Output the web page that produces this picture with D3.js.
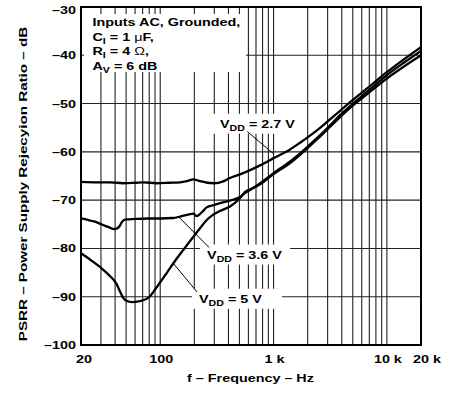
<!DOCTYPE html>
<html>
<head>
<meta charset="utf-8">
<script src="https://cdn.jsdelivr.net/npm/d3@7"></script>
<style>
  body { margin: 0; background: #fff; }
  text { font-family: "Liberation Sans", Arial, Helvetica, sans-serif; font-weight: bold; fill: #000; }
</style>
</head>
<body>
<svg id="chart" width="453" height="400"></svg>
<script>
// PSRR vs frequency, three supply voltages
const f27 = [20, 28, 36, 47, 60, 71, 93, 120, 150, 175, 196, 220, 260, 300, 360, 413, 500, 580, 760, 1000, 1400, 1714, 2400, 3000, 3864, 4732, 6650, 10000, 14000, 20000];
const db27 = [-66.2, -66.3, -66.3, -66.5, -66.4, -66.3, -66.5, -66.4, -66.3, -66.0, -65.7, -66.0, -66.4, -66.5, -66.1, -65.4, -64.7, -64.1, -62.8, -61.3, -59.5, -58.1, -55.6, -53.7, -51.5, -49.7, -46.9, -43.5, -40.9, -38.3];

const f36 = [20, 23, 26, 31, 36, 39, 42, 44, 46, 50, 60, 80, 100, 130, 150, 175, 196, 210, 235, 257, 300, 337, 413, 500, 562, 660, 760, 1000, 1400, 1714, 2400, 3000, 3864, 4732, 6650, 10000, 14000, 20000];
const db36 = [-73.8, -74.1, -74.4, -75.1, -75.7, -76.0, -75.8, -75.3, -74.5, -74.0, -73.9, -73.8, -73.8, -73.7, -73.4, -73.0, -72.8, -73.3, -72.4, -71.5, -71.0, -70.6, -70.1, -69.4, -68.5, -67.5, -66.5, -64.4, -62.0, -60.3, -57.2, -55.0, -52.4, -50.5, -47.6, -44.1, -41.6, -39.1];

const f50 = [20, 24, 30, 36, 41, 44, 47, 51, 56, 66, 75, 82, 90, 100, 114, 135, 160, 190, 226, 260, 294, 340, 413, 500, 562, 660, 760, 1000, 1400, 1714, 2400, 3000, 3864, 4732, 6650, 10000, 14000, 20000];
const db50 = [-81.0, -82.3, -84.0, -85.7, -87.3, -88.8, -90.2, -90.9, -91.1, -90.9, -90.5, -89.8, -88.5, -87.0, -85.1, -82.6, -80.3, -78.0, -75.7, -74.0, -73.0, -72.2, -71.3, -69.7, -68.3, -67.5, -66.7, -64.6, -62.3, -60.6, -57.5, -55.3, -52.8, -50.9, -48.1, -44.8, -42.4, -40.0];

const xTicks = [20, 100, 1000, 10000, 20000];
const xTickLabels = ['20', '100', '1 k', '10 k', '20 k'];
const yTicks = [-30, -40, -50, -60, -70, -80, -90, -100];
const yTickLabels = ['–30', '–40', '–50', '–60', '–70', '–80', '–90', '–100'];

const W = 453, H = 400;
const margin = { top: 7, right: 32, bottom: 55, left: 81 };
const SX = 1.25; // the original lettering is wider than Arial

const svg = d3.select('#chart');
svg.append('rect').attr('width', W).attr('height', H).attr('fill', '#fff');

const x = d3.scaleLog().domain([20, 20000]).range([margin.left, W - margin.right]);
const y = d3.scaleLinear().domain([-100, -30]).range([H - margin.bottom, margin.top]);

// grid
const grid = svg.append('g').attr('stroke', '#222').attr('stroke-width', 1.1);
grid.selectAll('.vx')
  .data(x.ticks().filter(d => d > 20 && d < 20000))
  .enter().append('line')
  .attr('x1', d => x(d)).attr('x2', d => x(d))
  .attr('y1', y(-30)).attr('y2', y(-100));
grid.selectAll('.hy')
  .data(yTicks.filter(d => d > -100 && d < -30))
  .enter().append('line')
  .attr('x1', x(20)).attr('x2', x(20000))
  .attr('y1', d => y(d)).attr('y2', d => y(d));

function place(sel, px, py, sx) {
  return sel.attr('transform', 'translate(' + px + ',' + py + ') scale(' + sx + ',1)');
}

// info box
const info = svg.append('g');
info.append('rect')
  .attr('x', margin.left + 3).attr('y', margin.top + 7)
  .attr('width', 162).attr('height', 58).attr('fill', '#fff');

const infoLines = [
  [{ t: 'Inputs AC, Grounded,' }],
  [{ t: 'C' }, { t: 'I', sub: true }, { t: ' = 1 ' }, { t: 'μ', thin: true }, { t: 'F,' }],
  [{ t: 'R' }, { t: 'I', sub: true }, { t: ' = 4 ' }, { t: 'Ω', thin: true }, { t: ',' }],
  [{ t: 'A' }, { t: 'V', sub: true }, { t: ' = 6 dB' }]
];

function writeParts(textSel, parts) {
  let down = false;
  parts.forEach(p => {
    const ts = textSel.append('tspan').text(p.t);
    if (p.sub) {
      ts.attr('font-size', 8.5).attr('dy', 3);
      down = true;
    } else {
      ts.attr('font-size', 11.5);
      if (down) { ts.attr('dy', -3); down = false; }
    }
    if (p.thin) ts.attr('font-weight', 'normal');
  });
}

infoLines.forEach((parts, i) => {
  const t = info.append('text');
  place(t, margin.left + 11.5, margin.top + 19 + i * 14.5, SX);
  writeParts(t, parts);
});

// curve labels, placed in data units
const curveLabels = [
  { v: '2.7', f: 337, db: -55.0, from: [587, -55.8], to: [1000, -60.4], w: 87 },
  { v: '3.6', f: 259, db: -82.1, from: [144.5, -73.4], to: [270, -79.8], w: 90 },
  { v: '5', f: 220, db: -91.25, from: [130.5, -83.1], to: [211, -89.0], w: 90 }
];

const lab = svg.append('g');
curveLabels.forEach(c => {
  lab.append('rect')
    .attr('x', x(c.f) - 7).attr('y', y(c.db) - 14)
    .attr('width', c.w).attr('height', 20)
    .attr('fill', '#fff');
});

// leaders
curveLabels.forEach(c => {
  lab.append('line')
    .attr('x1', x(c.from[0])).attr('y1', y(c.from[1]))
    .attr('x2', x(c.to[0])).attr('y2', y(c.to[1]))
    .attr('stroke', '#000').attr('stroke-width', 1);
});

// curves
const line = d3.line()
  .x(d => x(d[0]))
  .y(d => y(d[1]))
  .curve(d3.curveMonotoneX);

[[f27, db27], [f36, db36], [f50, db50]].forEach(s => {
  svg.append('path')
    .datum(s[0].map((f, i) => [f, s[1][i]]))
    .attr('fill', 'none')
    .attr('stroke', '#000')
    .attr('stroke-width', 2.3)
    .attr('stroke-linejoin', 'round')
    .attr('d', line);
});

curveLabels.forEach(c => {
  const t = lab.append('text');
  place(t, x(c.f), y(c.db), SX);
  writeParts(t, [{ t: 'V' }, { t: 'DD', sub: true }, { t: ' = ' + c.v + ' V' }]);
});

// frame
svg.append('rect')
  .attr('x', x(20)).attr('y', y(-30))
  .attr('width', x(20000) - x(20)).attr('height', y(-100) - y(-30))
  .attr('fill', 'none').attr('stroke', '#000').attr('stroke-width', 2);

// axis labels
const tickG = svg.append('g').attr('font-size', 11.5);
xTicks.forEach((v, i) => {
  const dx = i === 0 ? 3 : (i === xTicks.length - 1 ? 6 : 1);
  const t = tickG.append('text').attr('text-anchor', 'middle').text(xTickLabels[i]);
  place(t, x(v) + dx, H - margin.bottom + 18, SX);
});
yTicks.forEach((v, i) => {
  const dy = i === 0 ? 7 : 4;
  const t = tickG.append('text').attr('text-anchor', 'end').text(yTickLabels[i]);
  place(t, margin.left - 5, y(v) + dy, SX);
});

const xt = svg.append('text').attr('font-size', 11.5).attr('text-anchor', 'middle')
  .text('f – Frequency – Hz');
place(xt, 250.5, 382, SX);

const yt = svg.append('text').attr('font-size', 11.5).attr('text-anchor', 'middle')
  .attr('transform', 'translate(26.5,184) rotate(-90) scale(1.32,1)')
  .text('PSRR – Power Supply Rejecyion Ratio – dB');
</script>
</body>
</html>
